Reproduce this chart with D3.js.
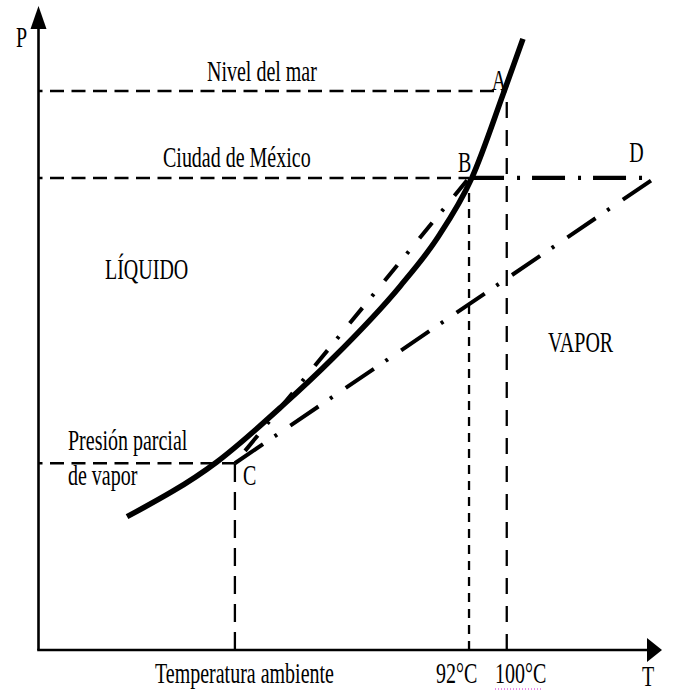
<!DOCTYPE html>
<html>
<head>
<meta charset="utf-8">
<script src="https://cdn.jsdelivr.net/npm/d3@7"></script>
<style>
  html, body { margin: 0; padding: 0; background: #fff; }
  text { font-family: "Liberation Serif", "DejaVu Serif", serif; fill: #000; }
</style>
</head>
<body>
<div id="diagrama"></div>
<script>
// curva de presion de vapor (unidades arbitrarias 0-100 en T y P)
const curvaT = [14.2, 28.6, 39.2, 47.2, 58.0, 64.0, 69.5, 74.7, 77.7];
const curvaP = [20.7, 29.2, 38.0, 45.3, 56.5, 64.0, 73.3, 86.8, 94.9];

// presiones de referencia y temperaturas de ebullicion
const niveles = ["Nivel del mar", "Ciudad de México", "Presión parcial"];
const nivelP = [86.8, 73.3, 29.0];
const temps = ["100°C", "92°C", "Temperatura ambiente"];
const tempT = [75.1, 69.05, 31.5];
const puntos = ["A", "B", "C"];

const puntoD = [97.3, 73.3];
const finRectaVapor = [98.4, 73.0];
const regiones = ["LÍQUIDO", "VAPOR"];

var width = 673, height = 692;

var x = d3.scaleLinear().domain([0, 100]).range([38.5, 662]);
var y = d3.scaleLinear().domain([0, 100]).range([650, 6]);

const svg = d3.select("#diagrama")
    .append("svg")
    .attr("width", width)
    .attr("height", height)

// texto "estirado" verticalmente como en la figura original
function label(g, str, px, py) {
    g.append("g")
        .attr("transform", "translate(" + px + "," + py + ") scale(1,1.45)")
        .append("text")
        .attr("font-size", 20)
        .text(str)
}

// lineas punteadas horizontales (desde el eje P hasta cada punto)
svg.append("g").selectAll("line")
    .data(nivelP)
    .enter()
    .append("line")
    .attr("x1", x(0))
    .attr("x2", function(d, i) { return x(tempT[i]); })
    .attr("y1", function(d) { return y(d); })
    .attr("y2", function(d) { return y(d); })
    .attr("stroke", "#000")
    .attr("stroke-width", 2.5)
    .attr("stroke-dasharray", "14,7.5")
    .attr("stroke-dashoffset", 10)

// lineas punteadas verticales (desde el eje T)
var vDash = ["16,12", "9,7", "18,10"];
svg.append("g").selectAll("line")
    .data(tempT)
    .enter()
    .append("line")
    .attr("x1", function(d) { return x(d); })
    .attr("x2", function(d) { return x(d); })
    .attr("y1", y(0))
    .attr("y2", function(d, i) { return y(nivelP[i]); })
    .attr("stroke", "#000")
    .attr("stroke-width", 2.3)
    .attr("stroke-dasharray", function(d, i) { return vDash[i]; })

// rectas de trazo y punto
var C = [tempT[2], nivelP[2]], B = [tempT[1], nivelP[1]];
var rectas = [
    {from: C, to: B, dash: "20,15,3,17", off: 39, w: 4},
    {from: C, to: finRectaVapor, dash: "34,14,3,16", off: 0, w: 4},
    {from: B, to: puntoD, dash: "33,13,3,12", off: -2, w: 4.2}
];
svg.append("g").selectAll("line")
    .data(rectas)
    .enter()
    .append("line")
    .attr("x1", function(d) { return x(d.from[0]); })
    .attr("y1", function(d) { return y(d.from[1]); })
    .attr("x2", function(d) { return x(d.to[0]); })
    .attr("y2", function(d) { return y(d.to[1]); })
    .attr("stroke", "#000")
    .attr("stroke-width", function(d) { return d.w; })
    .attr("stroke-dasharray", function(d) { return d.dash; })
    .attr("stroke-dashoffset", function(d) { return d.off; })

// curva de equilibrio liquido-vapor
var curva = d3.line()
    .x(function(d, i) { return x(curvaT[i]); })
    .y(function(d, i) { return y(curvaP[i]); })
    .curve(d3.curveMonotoneX);
svg.append("path")
    .attr("d", curva(curvaT))
    .attr("fill", "none")
    .attr("stroke", "#000")
    .attr("stroke-width", 5.5)

// ejes con flechas
svg.append("line")
    .attr("x1", x(0)).attr("y1", y(0))
    .attr("x2", x(0)).attr("y2", y(100) + 22)
    .attr("stroke", "#000").attr("stroke-width", 2.6)
svg.append("line")
    .attr("x1", x(0) - 1.3).attr("y1", y(0))
    .attr("x2", x(100) - 14).attr("y2", y(0))
    .attr("stroke", "#000").attr("stroke-width", 2.6)
svg.append("path")
    .attr("d", "M" + x(0) + "," + y(100) + "L" + (x(0) - 8) + "," + (y(100) + 23) + "L" + (x(0) + 8) + "," + (y(100) + 23) + "Z")
    .attr("fill", "#000")
svg.append("path")
    .attr("d", "M" + x(100) + "," + y(0) + "L" + (x(100) - 15) + "," + (y(0) - 12) + "L" + (x(100) - 15) + "," + (y(0) + 12) + "Z")
    .attr("fill", "#000")

// textos
var textos = svg.append("g")
label(textos, "P", 16, 47)
label(textos, "T", 642, 686)
label(textos, niveles[0], 207, 81)
label(textos, niveles[1], 163, 167)
label(textos, niveles[2], 68, 450)
label(textos, "de vapor", 68, 485)
label(textos, regiones[0], 105, 279)
label(textos, regiones[1], 548, 352)
label(textos, puntos[0], x(tempT[0]) - 15, y(nivelP[0]) - 1)
label(textos, puntos[1], x(tempT[1]) - 11, y(nivelP[1]) - 6)
label(textos, puntos[2], x(tempT[2]) + 8, y(nivelP[2]) + 22)
label(textos, "D", x(puntoD[0]) - 16, y(puntoD[1]) - 16)
label(textos, temps[2], 155, 683)
label(textos, temps[1], 436, 683)
label(textos, temps[0], 495, 683)

// subrayado del corrector ortografico bajo "100°C"
svg.append("line")
    .attr("x1", 495).attr("x2", 541)
    .attr("y1", 689).attr("y2", 689)
    .attr("stroke", "#d020d0")
    .attr("stroke-width", 1)
    .attr("stroke-dasharray", "1,2")
</script>
</body>
</html>
